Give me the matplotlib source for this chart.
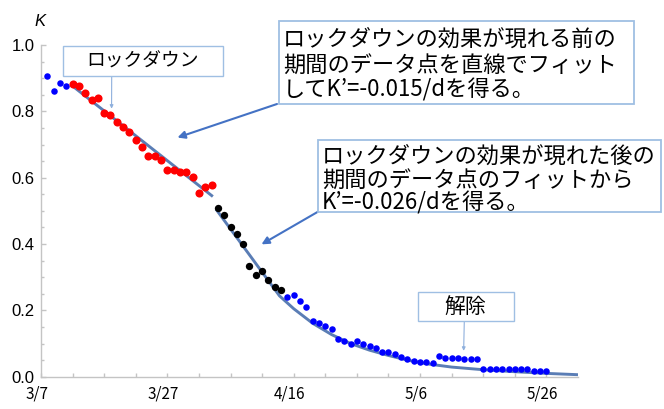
import numpy as np
import matplotlib
matplotlib.use("Agg")
import matplotlib.pyplot as plt
from matplotlib.patches import Rectangle
from matplotlib.transforms import ScaledTranslation

# ---- data: effective reproduction-type indicator K by day (day 0 = 3/7) ----
tick_days = [0, 20, 40, 60, 80]
tick_labels = ["3/7", "3/27", "4/16", "5/6", "5/26"]

first_day_early = 1
k_early = [0.907, 0.860, 0.886, 0.876]

first_day_pre = 5
k_pre = [0.881, 0.876, 0.855, 0.834, 0.841, 0.794, 0.789, 0.768, 0.752, 0.737,
         0.714, 0.691, 0.665, 0.665, 0.654, 0.623, 0.622, 0.618, 0.618, 0.603,
         0.555, 0.571, 0.577]

first_day_post = 28
k_post = [0.509, 0.488, 0.452, 0.431, 0.401, 0.333, 0.306, 0.318, 0.291, 0.271,
          0.260]

first_day_late = 39
k_late = [0.239, 0.245, 0.228, 0.209, 0.167, 0.161, 0.152, 0.145, 0.115, 0.109,
          0.100, 0.109, 0.100, 0.094, 0.088, 0.074, 0.074, 0.068, 0.058, 0.053,
          0.048, 0.043, 0.043, 0.042, 0.063, 0.057, 0.057, 0.057, 0.053, 0.053,
          0.053, 0.022, 0.022, 0.022, 0.022, 0.022, 0.022, 0.022, 0.022, 0.017,
          0.017, 0.017]

# linear fit before the lockdown takes effect (K' = -0.015/d)
fit_pre_day0, fit_pre_k0, fit_pre_day1 = 4.95, 0.877, 27.2
slope_pre = -0.015
# fit after the lockdown takes effect (K' = -0.026/d), then the decaying tail
fit_post_day0, fit_post_k0, fit_post_day1 = 27.7, 0.505, 37.75
slope_post = -0.026
tail_days = [40, 43, 46, 49, 52, 55, 58, 61, 65, 70, 75, 80, 85]
tail_k = [0.205, 0.161, 0.127, 0.100, 0.080, 0.064, 0.050, 0.039, 0.029,
          0.021, 0.015, 0.010, 0.006]

JP = ["Noto Sans CJK JP", "DejaVu Sans"]
W, H = 664, 409


def fpx(x, y):
    """pixel position (from top-left) -> figure fraction"""
    return x / W, 1 - y / H


fig = plt.figure(figsize=(W / 100, H / 100), dpi=100)
x0, y_top = fpx(41, 45)
x1, y_bot = fpx(578, 376.7)
ax = fig.add_axes([x0, y_bot, x1 - x0, y_top - y_bot])

# fit curves
line_col = "#5a7db5"
d = np.array([fit_pre_day0, fit_pre_day1])
ax.plot(d, fit_pre_k0 + slope_pre * (d - fit_pre_day0), color=line_col,
        lw=2.1, solid_capstyle="butt", zorder=2)
k_bend = fit_post_k0 + slope_post * (fit_post_day1 - fit_post_day0)
post_d = [fit_post_day0, fit_post_day1] + tail_days
post_k = [fit_post_k0, k_bend] + tail_k
ax.plot(post_d, post_k, color=line_col, lw=2.1, solid_capstyle="butt",
        solid_joinstyle="round", zorder=2)

# data points
def days(first, vals):
    return first + np.arange(len(vals))

ax.scatter(days(first_day_early, k_early), k_early, s=22, color="#0000ff",
           linewidths=0, zorder=3)
ax.scatter(days(first_day_pre, k_pre), k_pre, s=34, color="#ff0000",
           linewidths=0, zorder=3)
ax.scatter(days(first_day_post, k_post), k_post, s=28, color="#000000",
           linewidths=0, zorder=3)
ax.scatter(days(first_day_late, k_late), k_late, s=22, color="#0000ff",
           linewidths=0, zorder=3)

# axes styling
ax.set_xlim(0, 85)
ax.set_ylim(0, 1.0)
for s in ("top", "right"):
    ax.spines[s].set_visible(False)
for s in ("left", "bottom"):
    ax.spines[s].set_color("#c4c4c4")
    ax.spines[s].set_linewidth(1.0)

ax.set_xticks(tick_days)
ax.set_xticklabels(tick_labels, fontfamily=JP, fontsize=11)
ax.set_xticks(np.arange(0, 85, 5), minor=True)
ax.set_yticks([0, 0.2, 0.4, 0.6, 0.8, 1.0])
ax.set_yticklabels(["0.0", "0.2", "0.4", "0.6", "0.8", "1.0"],
                   fontfamily="Liberation Sans", fontsize=12)
ax.set_yticks(np.arange(0, 1.0001, 0.05), minor=True)
ax.tick_params(axis="x", which="both", direction="in", length=2.8,
               color="#c4c4c4", width=1, pad=6)
ax.tick_params(axis="y", which="major", direction="in", length=3.6,
               color="#c4c4c4", width=1, pad=4.5)
ax.tick_params(axis="y", which="minor", direction="in", length=2.0,
               color="#c4c4c4", width=1)
shift = ScaledTranslation(-0.04, 0, fig.dpi_scale_trans)
for lbl in ax.get_xticklabels():
    lbl.set_transform(lbl.get_transform() + shift)

fig.text(*fpx(40, 21), "K", fontsize=12, style="italic",
         fontfamily="Liberation Sans", ha="center", va="center")

# ---- annotation boxes ----
def box(xa, ya, xb, yb, ec, lw=1.2):
    fx, fy = fpx(xa, yb)
    fig.patches.append(Rectangle((fx, fy), (xb - xa) / W, (yb - ya) / H,
                                 transform=fig.transFigure, fill=True,
                                 facecolor="white", edgecolor=ec, lw=lw,
                                 zorder=5))

def arrow(tail_px, tip_data, color, lw, scale):
    ax.annotate("", xy=tip_data, xycoords="data",
                xytext=fpx(*tail_px), textcoords="figure fraction",
                arrowprops=dict(arrowstyle="-|>", color=color, lw=lw,
                                mutation_scale=scale, shrinkA=0, shrinkB=0),
                zorder=6)

box_ec = "#9fbfe3"

# lockdown label
box(63.3, 45.7, 222.7, 76, box_ec, 1.0)
fig.text(*fpx(143, 61), "ロックダウン", fontfamily=JP, fontsize=13.5,
         ha="center", va="center", zorder=7)
arrow((111.7, 76), (11.17, 0.808), "#8fb0dd", 0.8, 5)

# pre-lockdown fit note
box(279.3, 20.7, 634.3, 104, box_ec, 1.3)
for y, s in [(39.3, "ロックダウンの効果が現れる前の"),
             (65.0, "期間のデータ点を直線でフィット"),
             (90.0, "してK’=-0.015/dを得る。")]:
    fig.text(*fpx(283, y), s, fontfamily=JP, fontsize=16, ha="left",
             va="center", zorder=7)
arrow((277, 104), (21.6, 0.721), "#4472c4", 1.5, 11)

# post-lockdown fit note
box(318.3, 140, 661, 211.7, box_ec, 1.3)
for y, s in [(156.7, "ロックダウンの効果が現れた後の"),
             (180.0, "期間のデータ点のフィットから"),
             (203.3, "K’=-0.026/dを得る。")]:
    fig.text(*fpx(321.7, y), s, fontfamily=JP, fontsize=16, ha="left",
             va="center", zorder=7)
arrow((318, 211.7), (34.9, 0.399), "#4472c4", 1.5, 11)

# lifting of the lockdown
box(418.3, 291.7, 514.3, 321, box_ec, 1.0)
fig.text(*fpx(465, 307), "解除", fontfamily=JP, fontsize=15,
         ha="center", va="center", zorder=7)
arrow((464.3, 321), (66.9, 0.078), "#8fb0dd", 0.8, 5)

fig.savefig("out.png", dpi=100)
